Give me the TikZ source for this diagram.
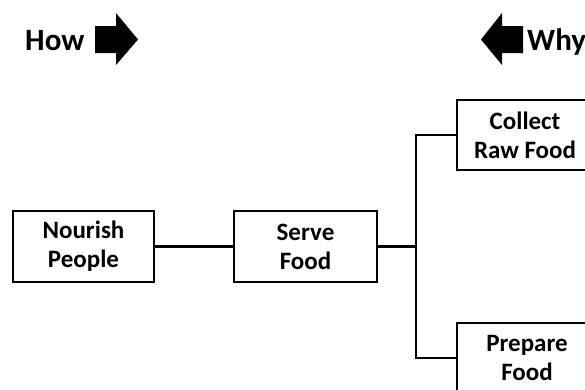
\documentclass[tikz,border=0pt]{standalone}
\usepackage{fontspec}
\setmainfont{Carlito}
\begin{document}
\begin{tikzpicture}[x=1pt,y=-1pt,
  box/.style={draw=black,line width=2.6pt,fill=white,align=center,inner sep=0pt,
    font=\fontsize{25}{29}\selectfont\bfseries,minimum height=71pt},
  conn/.style={line width=2.6pt},
  label/.style={font=\fontsize{31}{36}\selectfont\bfseries,inner sep=0pt}]
\useasboundingbox (0,0) rectangle (585,389);
\clip (0,0) rectangle (585,389);
\node[box,minimum width=141pt] (nourish) at (83.5,246.5) {Nourish\\People};
\node[box,minimum width=143pt] (serve) at (305.5,246.5) {Serve\\Food};
\node[box,minimum width=136pt,minimum height=70pt] (collect) at (525,135) {Collect\\Raw Food};
\node[box,minimum width=140pt,minimum height=70pt] (prepare) at (527,358) {Prepare\\Food};
\coordinate (j) at (416,246.5);
\draw[conn] (nourish.east) -- (serve.west);
\draw[conn] (serve.east) -- (j);
\draw[conn] (collect.west) -| (j) |- (prepare.west);
\node[label,anchor=base west] (how) at (25,50) {How};
\node[label,anchor=base west] (why) at (527,50) {Why};
\fill (95,26) -- (116,26) -- (116,13) -- (138,39.5) -- (116,65) -- (116,53) -- (95,53) -- cycle;
\fill (523,26) -- (502,26) -- (502,13) -- (481,39.5) -- (502,65) -- (502,53) -- (523,53) -- cycle;
\end{tikzpicture}
\end{document}
